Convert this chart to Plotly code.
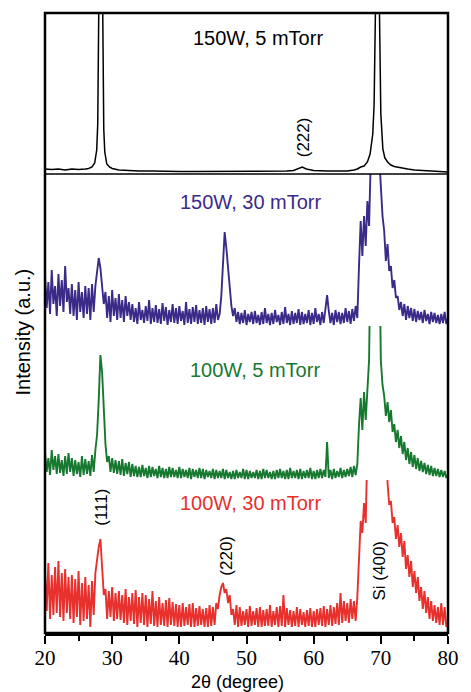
import plotly.graph_objects as go

# 2-theta sampling grid (degrees), 0.25 deg step from 20 to 80
two_theta = [20 + 0.25 * i for i in range(241)]

# Intensities (a.u.), one row per degree: x.00, x.25, x.50, x.75
int_150W_30 = [
    50, 18, 44, 12,  # 20
    56, 22, 40, 10,  # 21
    52, 20, 46, 14,  # 22
    60, 24, 38, 12,  # 23
    42, 10, 36, 6,   # 24
    44, 14, 34, 8,   # 25
    40, 12, 38, 6,   # 26
    42, 14, 40, 52,  # 27
    68, 58, 40, 22,  # 28
    34, 8, 30, 4,    # 29
    36, 10, 28, 6,   # 30
    32, 8, 26, 4,    # 31
    30, 10, 24, 6,   # 32
    22, 4, 18, 2,    # 33
    24, 6, 16, 3,    # 34
    20, 5, 26, 2,    # 35
    18, 4, 21, 3,    # 36
    17, 2, 23, 5,    # 37
    19, 1, 16, 4,    # 38
    22, 3, 18, 2,    # 39
    20, 5, 15, 1,    # 40
    24, 3, 17, 2,    # 41
    19, 4, 21, 2,    # 42
    16, 3, 18, 1,    # 43
    20, 4, 17, 2,    # 44
    18, 3, 22, 6,    # 45
    12, 30, 62, 94,  # 46
    78, 56, 36, 20,  # 47
    10, 18, 4, 14,   # 48
    2, 13, 3, 16,    # 49
    1, 12, 4, 14,    # 50
    2, 15, 3, 11,    # 51
    1, 14, 2, 18,    # 52
    3, 12, 1, 13,    # 53
    2, 16, 4, 11,    # 54
    1, 14, 2, 19,    # 55
    3, 12, 1, 15,    # 56
    2, 13, 3, 17,    # 57
    1, 14, 2, 12,    # 58
    3, 16, 1, 13,    # 59
    2, 18, 4, 12,    # 60
    1, 14, 3, 20,    # 61
    31, 15, 3, 13,   # 62
    1, 16, 4, 14,    # 63
    2, 13, 3, 18,    # 64
    4, 15, 2, 17,    # 65
    5, 20, 8, 60,    # 66
    105, 70, 110, 80,   # 67
    125, 100, 150, 250,  # 68
    300, 280, 200, 170,  # 69
    150, 110, 95, 65,    # 70
    82, 55, 60, 38,  # 71
    46, 28, 30, 16,  # 72
    24, 10, 22, 6,   # 73
    20, 8, 18, 5,    # 74
    17, 4, 15, 6,    # 75
    14, 3, 16, 5,    # 76
    12, 2, 14, 4,    # 77
    13, 3, 11, 2,    # 78
    12, 3, 14, 2,    # 79
    8,               # 80
]

int_100W_5 = [
    28, 8, 22, 5,    # 20
    30, 10, 24, 6,   # 21
    26, 7, 20, 4,    # 22
    24, 6, 27, 8,    # 23
    22, 4, 20, 6,    # 24
    18, 3, 24, 5,    # 25
    21, 6, 19, 4,    # 26
    25, 8, 30, 45,   # 27
    80, 125, 108, 70,  # 28
    36, 18, 24, 8,   # 29
    22, 7, 20, 6,    # 30
    19, 5, 21, 4,    # 31
    17, 6, 18, 3,    # 32
    16, 4, 14, 3,    # 33
    13, 3, 15, 4,    # 34
    12, 2, 14, 3,    # 35
    13, 4, 11, 2,    # 36
    14, 3, 12, 2,    # 37
    11, 2, 13, 3,    # 38
    12, 3, 10, 2,    # 39
    13, 2, 11, 3,    # 40
    10, 2, 12, 1,    # 41
    11, 3, 10, 2,    # 42
    12, 2, 11, 1,    # 43
    10, 3, 9, 2,     # 44
    11, 1, 10, 2,    # 45
    9, 2, 11, 1,     # 46
    10, 2, 8, 1,     # 47
    9, 1, 10, 2,     # 48
    8, 2, 11, 1,     # 49
    10, 1, 9, 2,     # 50
    8, 2, 10, 1,     # 51
    9, 1, 11, 2,     # 52
    10, 2, 8, 1,     # 53
    9, 1, 10, 2,     # 54
    11, 2, 9, 1,     # 55
    10, 1, 12, 2,    # 56
    9, 2, 10, 1,     # 57
    11, 1, 9, 2,     # 58
    10, 2, 12, 1,    # 59
    9, 1, 10, 2,     # 60
    11, 2, 10, 3,    # 61
    38, 2, 10, 1,    # 62
    11, 2, 9, 3,     # 63
    12, 2, 10, 3,    # 64
    11, 4, 13, 3,    # 65
    14, 5, 16, 55,   # 66
    82, 50, 88, 60,  # 67
    88, 120, 250, 400,   # 68
    500, 500, 400, 250,  # 69
    120, 95, 84, 64,  # 70
    78, 58, 70, 48,   # 71
    56, 38, 50, 32,   # 72
    44, 26, 38, 20,   # 73
    32, 16, 28, 13,   # 74
    25, 11, 22, 9,    # 75
    19, 8, 17, 6,     # 76
    15, 5, 14, 4,     # 77
    12, 4, 11, 3,     # 78
    10, 3, 9, 2,      # 79
    6,                # 80
]

int_100W_30 = [
    62, 22, 70, 14,  # 20
    58, 18, 66, 20,  # 21
    72, 16, 60, 12,  # 22
    64, 20, 56, 14,  # 23
    58, 10, 54, 16,  # 24
    62, 8, 50, 12,   # 25
    56, 14, 48, 6,   # 26
    52, 18, 60, 74,  # 27
    86, 94, 62, 38,  # 28
    44, 14, 42, 16,  # 29
    46, 12, 40, 14,  # 30
    42, 13, 38, 10,  # 31
    44, 8, 36, 12,   # 32
    40, 9, 43, 6,    # 33
    36, 10, 40, 8,   # 34
    38, 6, 34, 9,    # 35
    42, 7, 32, 6,    # 36
    36, 8, 30, 7,    # 37
    33, 6, 35, 8,    # 38
    31, 7, 29, 6,    # 39
    28, 6, 30, 7,    # 40
    26, 8, 29, 6,    # 41
    30, 6, 25, 7,    # 42
    27, 8, 24, 6,    # 43
    25, 6, 28, 7,    # 44
    26, 8, 30, 24,   # 45
    38, 46, 50, 40,  # 46
    44, 30, 38, 18,  # 47
    24, 8, 28, 6,    # 48
    26, 7, 22, 8,    # 49
    24, 6, 27, 7,    # 50
    22, 8, 25, 6,    # 51
    26, 6, 23, 7,    # 52
    24, 7, 28, 6,    # 53
    22, 8, 26, 6,    # 54
    27, 7, 38, 6,    # 55
    25, 8, 23, 6,    # 56
    22, 7, 26, 6,    # 57
    24, 8, 21, 6,    # 58
    23, 7, 25, 6,    # 59
    22, 6, 24, 8,    # 60
    25, 7, 27, 6,    # 61
    24, 8, 28, 7,    # 62
    26, 9, 30, 8,    # 63
    40, 10, 32, 12,  # 64
    30, 10, 34, 14,  # 65
    32, 12, 36, 80,  # 66
    112, 100, 130, 110,  # 67
    140, 250, 400, 500,  # 68
    600, 650, 650, 600,  # 69
    500, 400, 300, 220,  # 70
    150, 128, 132, 110,  # 71
    116, 94, 108, 86,    # 72
    100, 76, 92, 64,     # 73
    78, 56, 72, 46,      # 74
    62, 40, 56, 32,      # 75
    46, 24, 42, 20,      # 76
    36, 14, 32, 12,      # 77
    28, 10, 26, 8,       # 78
    30, 8, 26, 6,        # 79
    12,                  # 80
]

# smooth pattern 150W, 5 mTorr (non-uniform sampling)
two_theta_150W_5 = [20, 21, 22, 23, 24, 25, 26, 26.5, 27, 27.4, 27.7, 27.85, 28.0, 28.3, 28.6,
                    28.75, 28.9, 29.2, 29.6, 30, 31, 32, 34, 36, 38, 40, 42, 44, 46, 48, 50, 52,
                    54, 56, 57, 57.7, 58.3, 58.9, 59.5, 60, 62, 64, 65, 66, 66.5, 67, 67.5, 68,
                    68.4, 68.8, 69.0, 69.2, 69.5, 69.8, 70.0, 70.3, 70.6, 71, 71.5, 72, 73, 74,
                    75, 76, 77, 78, 79, 80]
int_150W_5 = [5, 4.5, 5, 4, 5, 4.5, 5, 5.5, 7, 11, 24, 50, 160, 600, 160,
              45, 22, 10, 7, 5.5, 4, 3.5, 3, 3, 2.5, 2.5, 2.5, 2.5, 2.5, 2.5, 3, 3,
              3, 3, 3.5, 5, 7, 5, 4, 3.5, 3, 3, 3, 4, 5, 7, 8, 12,
              20, 40, 70, 165, 600, 160, 60, 25, 16, 12, 9, 7.5, 6, 5,
              4, 3.5, 3, 2.5, 2, 2]

series_names = ["100W, 30 mTorr", "100W, 5 mTorr", "150W, 30 mTorr", "150W, 5 mTorr"]
series_colors = ["#e8302c", "#17782f", "#3b2a88", "#000000"]

# layout geometry (pixels)
W, H = 471, 692
ML, MR, MT, MB = 45, 14, 13, 59
plot_h = H - MT - MB
bottom_px = H - MB


def py(y):
    return (bottom_px - y) / plot_h


panel_edges = [633, 480, 326, 174, 13]  # pixel y of panel boundaries, bottom to top
domains = [[py(panel_edges[i]), py(panel_edges[i + 1])] for i in range(4)]
ranges = [[0, panel_edges[i] - panel_edges[i + 1]] for i in range(4)]

fig = go.Figure()
traces = [
    (two_theta, int_100W_30, "y", 1.9),
    (two_theta, int_100W_5, "y2", 1.9),
    (two_theta, int_150W_30, "y3", 1.9),
    (two_theta_150W_5, int_150W_5, "y4", 1.5),
]
for (xs, ys, ya, lw), name, col in zip(traces, series_names, series_colors):
    fig.add_trace(go.Scatter(x=xs, y=ys, yaxis=ya, xaxis="x", mode="lines",
                             line=dict(color=col, width=lw), name=name, showlegend=False))

sans = "Liberation Sans, Arial, sans-serif"
yax = dict(visible=False, showgrid=False, zeroline=False, fixedrange=True)
fig.update_layout(
    width=W, height=H,
    margin=dict(l=ML, r=MR, t=MT, b=MB),
    paper_bgcolor="white", plot_bgcolor="white",
    xaxis=dict(range=[20, 80], domain=[0, 1], anchor="y", tickmode="linear", tick0=20, dtick=10,
               ticks="outside", ticklen=8, tickwidth=2, tickcolor="black", ticklabelstandoff=-4,
               minor=dict(dtick=5, ticks="outside", ticklen=5, tickwidth=2, tickcolor="black"),
               showline=True, linecolor="black", linewidth=2.5, showgrid=False, zeroline=False,
               tickfont=dict(family="Liberation Serif, Times New Roman, serif", size=21, color="black")),
    yaxis=dict(domain=domains[0], range=ranges[0], anchor="x", **yax),
    yaxis2=dict(domain=domains[1], range=ranges[1], anchor="x", **yax),
    yaxis3=dict(domain=domains[2], range=ranges[2], anchor="x", **yax),
    yaxis4=dict(domain=domains[3], range=ranges[3], anchor="x", **yax),
)

# frame and separator under top panel
fig.add_shape(type="rect", xref="paper", yref="paper", x0=0, x1=1, y0=0, y1=1,
              line=dict(color="black", width=2.5))
fig.add_shape(type="line", xref="paper", yref="paper", x0=0, x1=1, y0=domains[3][0], y1=domains[3][0],
              line=dict(color="black", width=1.5))

centered = dict(showarrow=False, xanchor="center", yanchor="middle")

# series labels
label_pos = [(50.6, 503), (51.2, 370), (50.6, 202), (51.75, 38)]
for name, col, (lx, ly) in zip(series_names, series_colors, label_pos):
    fig.add_annotation(x=lx, y=py(ly), xref="x", yref="paper", text=name,
                       font=dict(family=sans, size=20, color=col), **centered)

# reflection labels
refl = [("(111)", 28.3, 507), ("(222)", 58.6, 137), ("(220)", 46.9, 556), ("Si (400)", 69.8, 570)]
for t, lx, ly in refl:
    fig.add_annotation(x=lx, y=py(ly), xref="x", yref="paper", text=t, textangle=-90,
                       font=dict(family=sans, size=17, color="black"), **centered)

# axis titles
fig.add_annotation(x=(22 - ML) / (W - ML - MR), y=py(332), xref="paper", yref="paper",
                   text="Intensity (a.u.)", textangle=-90,
                   font=dict(family=sans, size=20, color="black"), **centered)
fig.add_annotation(x=(242 - ML) / (W - ML - MR), y=py(682), xref="paper", yref="paper",
                   text="2θ (degree)",
                   font=dict(family=sans, size=18, color="black"), **centered)

fig.write_html("out.html")
